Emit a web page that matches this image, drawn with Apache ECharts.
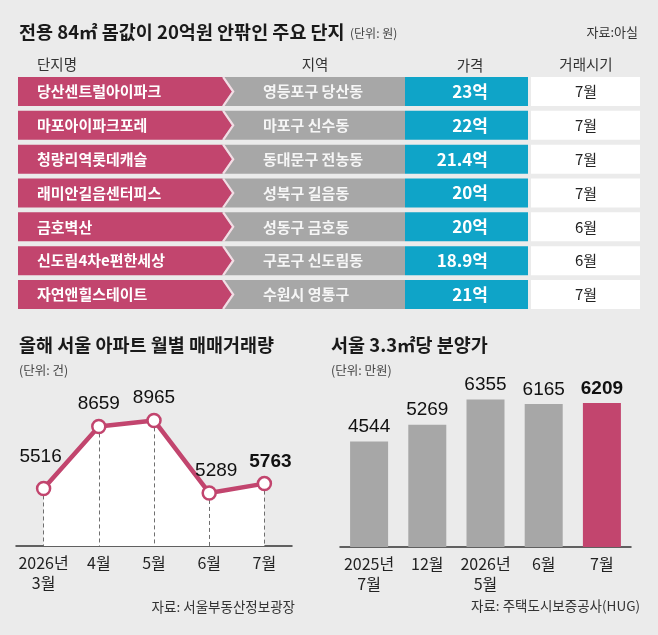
<!DOCTYPE html>
<html>
<head>
<meta charset="utf-8">
<script src="https://cdn.jsdelivr.net/npm/echarts@6/dist/echarts.min.js"></script>
<style>
  html, body { margin: 0; padding: 0; background: #ebebeb; }
  #chart { width: 658px; height: 635px; }
</style>
</head>
<body>
<div id="chart"></div>
<script>
// ---- DATA ----
const complexNames = ['당산센트럴아이파크', '마포아이파크포레', '청량리역롯데캐슬', '래미안길음센터피스', '금호벽산', '신도림4차e편한세상', '자연앤힐스테이트'];
const complexRegions = ['영등포구 당산동', '마포구 신수동', '동대문구 전농동', '성북구 길음동', '성동구 금호동', '구로구 신도림동', '수원시 영통구'];
const complexPrices = [23, 22, 21.4, 20, 20, 18.9, 21];      // 억원
const complexMonths = [7, 7, 7, 7, 6, 6, 7];                // 월

const tradeMonths = ['2026년\n3월', '4월', '5월', '6월', '7월'];
const tradeVolumes = [5516, 8659, 8965, 5289, 5763];        // 건

const presaleMonths = ['2025년\n7월', '12월', '2026년\n5월', '6월', '7월'];
const presalePrices = [4544, 5269, 6355, 6165, 6209];       // 만원

// ---- STYLE ----
const PINK = '#c2456e';
const GRAY = '#a7a7a7';
const BLUE = '#0fa4c8';
const KR = "'Noto Sans CJK KR', 'Noto Sans', sans-serif";
const NUM = "'Liberation Sans', Arial, sans-serif";
const TRADE_MIN = 2600;
// table column layout (in table units, table width = 622)
const C = { pinkEnd: 204, tip: 214, blueStart: 387, blueEnd: 510, whiteStart: 513, end: 622,
            pinkText: 19, grayText: 245, blueText: 470, whiteText: 568 };
const lineLabelTweaks = [
  { distance: 14, offset: [-3, 0] }, {}, {}, { offset: [7, 0] }, { offset: [6, 0], fontWeight: 'bold' }
];

const chart = echarts.init(document.getElementById('chart'), null, { renderer: 'canvas' });

function txt(text, x, y, opts) {
  return { type: 'text', x: x, y: y, silent: true,
    style: Object.assign({ text: text, fill: '#222', font: '14px ' + KR, align: 'left', verticalAlign: 'middle' }, opts || {}) };
}

const option = {
  backgroundColor: '#ebebeb',
  animation: false,
  grid: [
    { left: 16, top: 400, width: 276, height: 146 },
    { left: 340, top: 361.4, width: 291, height: 185.6 },
    { left: 18, top: 74.6, width: 622, height: 236.8 }
  ],
  xAxis: [
    { gridIndex: 0, type: 'category', data: tradeMonths, boundaryGap: true,
      axisLine: { lineStyle: { color: '#333', width: 1.5 } }, axisTick: { show: false },
      axisLabel: { fontSize: 16, color: '#222', lineHeight: 20, margin: 7, fontFamily: KR, interval: 0 } },
    { gridIndex: 1, type: 'category', data: presaleMonths, boundaryGap: true,
      axisLine: { lineStyle: { color: '#333', width: 1.5 } }, axisTick: { show: false },
      axisLabel: { fontSize: 16, color: '#222', lineHeight: 20, margin: 7, fontFamily: KR, interval: 0 } },
    { gridIndex: 2, type: 'value', min: 0, max: 622, show: false }
  ],
  yAxis: [
    { gridIndex: 0, type: 'value', min: TRADE_MIN, max: 10000, show: false },
    { gridIndex: 1, type: 'value', min: 0, max: 8000, show: false },
    { gridIndex: 2, type: 'category', data: complexNames, inverse: true, show: false }
  ],
  series: [
    {
      // white area under the line + dashed drop lines
      type: 'line', xAxisIndex: 0, yAxisIndex: 0, z: 1,
      data: tradeVolumes, silent: true,
      lineStyle: { width: 0, opacity: 0 }, showSymbol: false, symbol: 'none',
      areaStyle: { color: '#ffffff', opacity: 1 },
      markLine: {
        silent: true, symbol: ['none', 'none'], z: 2, animation: false,
        lineStyle: { type: [4, 3], color: '#6f6f6f', width: 1 },
        label: { show: false },
        data: tradeVolumes.map((v, i) => [{ coord: [i, v] }, { coord: [i, TRADE_MIN] }])
      }
    },
    {
      type: 'line', xAxisIndex: 0, yAxisIndex: 0, z: 3,
      data: tradeVolumes.map((v, i) => ({ value: v, label: lineLabelTweaks[i] })),
      lineStyle: { color: PINK, width: 4.5 },
      itemStyle: { color: '#fff', borderColor: PINK, borderWidth: 2.5 },
      symbol: 'circle', symbolSize: 13, showSymbol: true,
      label: { show: true, position: 'top', distance: 5, fontSize: 19, color: '#111', fontFamily: NUM }
    },
    {
      type: 'bar', xAxisIndex: 1, yAxisIndex: 1, barWidth: 38,
      data: presalePrices.map((v, i) => ({
        value: v,
        itemStyle: { color: i === presalePrices.length - 1 ? PINK : GRAY },
        label: { fontWeight: i === presalePrices.length - 1 ? 'bold' : 'normal' }
      })),
      label: { show: true, position: 'top', distance: 5, fontSize: 19, color: '#111', fontFamily: NUM }
    },
    {
      type: 'custom', xAxisIndex: 2, yAxisIndex: 2,
      data: complexNames.map((n, i) => [0, i]),
      renderItem: function (params, api) {
        const i = api.value(1);
        const yc = api.coord([0, i])[1];
        const h = 29, top = yc - h / 2, bot = yc + h / 2;
        const X = v => api.coord([v, i])[0];
        return {
          type: 'group',
          children: [
            { type: 'rect', shape: { x: X(C.pinkEnd), y: top, width: X(C.blueStart) - X(C.pinkEnd), height: h }, style: { fill: GRAY } },
            { type: 'polygon', shape: { points: [[X(0), top], [X(C.pinkEnd), top], [X(C.tip), yc], [X(C.pinkEnd), bot], [X(0), bot]] }, style: { fill: PINK } },
            { type: 'polyline', shape: { points: [[X(C.pinkEnd) + 1.2, top], [X(C.tip) + 1.2, yc], [X(C.pinkEnd) + 1.2, bot]] }, style: { stroke: '#f3dde5', lineWidth: 2.2, fill: null } },
            { type: 'rect', shape: { x: X(C.blueStart), y: top, width: X(C.blueEnd) - X(C.blueStart), height: h }, style: { fill: BLUE } },
            { type: 'rect', shape: { x: X(C.whiteStart), y: top, width: X(C.end) - X(C.whiteStart), height: h }, style: { fill: '#ffffff' } },
            { type: 'text', style: { text: complexNames[i], x: X(C.pinkText), y: yc, fill: '#fff', font: 'bold 15px ' + KR, align: 'left', verticalAlign: 'middle' } },
            { type: 'text', style: { text: complexRegions[i], x: X(C.grayText), y: yc, fill: '#f6f6f6', font: 'bold 15px ' + KR, align: 'left', verticalAlign: 'middle' } },
            { type: 'text', style: { text: complexPrices[i] + '억', x: X(C.blueText), y: yc, fill: '#fff', font: 'bold 17px ' + KR, align: 'right', verticalAlign: 'middle' } },
            { type: 'text', style: { text: complexMonths[i] + '월', x: X(C.whiteText), y: yc, fill: '#222', font: '15px ' + KR, align: 'center', verticalAlign: 'middle' } }
          ]
        };
      }
    }
  ],
  graphic: [
    txt('전용 84㎡ 몸값이 20억원 안팎인 주요 단지', 19, 32, { font: 'bold 18.5px ' + KR, fill: '#1a1a1a' }),
    txt('(단위: 원)', 350, 33, { font: '12px ' + KR, fill: '#444' }),
    txt('자료:아실', 638, 32, { font: '13px ' + KR, fill: '#333', align: 'right' }),
    txt('단지명', 57, 64, { font: '14.5px ' + KR, fill: '#333', align: 'center' }),
    txt('지역', 315, 64, { font: '14.5px ' + KR, fill: '#333', align: 'center' }),
    txt('가격', 470, 65, { font: '14.5px ' + KR, fill: '#333', align: 'center' }),
    txt('거래시기', 586, 64, { font: '14.5px ' + KR, fill: '#333', align: 'center' }),
    txt('올해 서울 아파트 월별 매매거래량', 19, 345, { font: 'bold 18.5px ' + KR, fill: '#1a1a1a' }),
    txt('(단위: 건)', 19, 370, { font: '12.5px ' + KR, fill: '#444' }),
    txt('서울 3.3㎡당 분양가', 331, 345, { font: 'bold 18.5px ' + KR, fill: '#1a1a1a' }),
    txt('(단위: 만원)', 331, 370, { font: '12.5px ' + KR, fill: '#444' }),
    txt('자료: 서울부동산정보광장', 295, 607, { font: '13.5px ' + KR, fill: '#333', align: 'right' }),
    txt('자료: 주택도시보증공사(HUG)', 640, 606, { font: '13.5px ' + KR, fill: '#333', align: 'right' })
  ]
};
chart.setOption(option);
</script>
</body>
</html>
